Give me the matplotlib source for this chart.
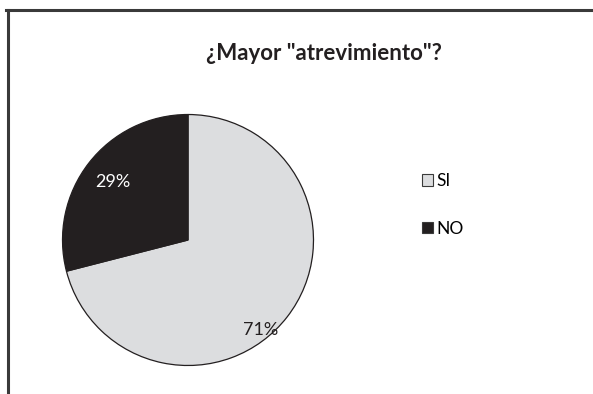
import matplotlib
matplotlib.use('Agg')  # sin GUI

import matplotlib.pyplot as plt
from matplotlib.lines import Line2D
from matplotlib.patches import Patch

plt.rcParams['font.family'] = ['Lato', 'DejaVu Sans']

# Datos de la encuesta
labels = ['SI', 'NO']
values = [71, 29]
colors = ['#dcdddf', '#231f20']
text_colors = ['#231f20', '#ffffff']

W, H = 593, 394
fig = plt.figure(figsize=(W / 100, H / 100), dpi=100)

# Marco del grafico (solo borde superior e izquierdo)
fig.add_artist(Line2D([6 / W, 1], [1 - 9.5 / H, 1 - 9.5 / H], color='#3a3a3a', lw=2.2))
fig.add_artist(Line2D([7.5 / W, 7.5 / W], [0, 1 - 9.5 / H], color='#3a3a3a', lw=2.2))

# Eje del pie: centro (188, 240) px, radio 128 px
cx, cy, r = 188, 240, 128
ax = fig.add_axes([(cx - r) / W, (H - cy - r) / H, 2 * r / W, 2 * r / H])
wedges, texts, autotexts = ax.pie(values, colors=colors, startangle=90, counterclock=False,
                                  autopct='%1.0f%%', pctdistance=0.76,
                                  wedgeprops=dict(edgecolor='#231f20', linewidth=0.9),
                                  textprops=dict(fontsize=13))
ax.set_xlim(-1.02, 1.02)
ax.set_ylim(-1.02, 1.02)
ax.set_aspect('equal')
ax.axis('off')

for t, c in zip(autotexts, text_colors):
  t.set_color(c)
# La etiqueta del 71% va un poco mas abajo, como la pone Excel
autotexts[0].set_position((0.58, -0.72))

fig.text(324 / W, 1 - 54 / H, '¿Mayor "atrevimiento"?', ha='center', va='center',
         fontsize=16, fontweight='bold', color='#231f20')

handles = [Patch(facecolor=c, edgecolor='#3a3a3a', linewidth=0.8) for c in colors]
fig.legend(handles, labels, loc='center left', bbox_to_anchor=(415 / W, 1 - 205 / H),
           frameon=False, fontsize=12.5, handlelength=0.65, handleheight=0.65,
           handletextpad=0.2, labelspacing=1.8, borderaxespad=0)

plt.savefig('out.png', dpi=100)
